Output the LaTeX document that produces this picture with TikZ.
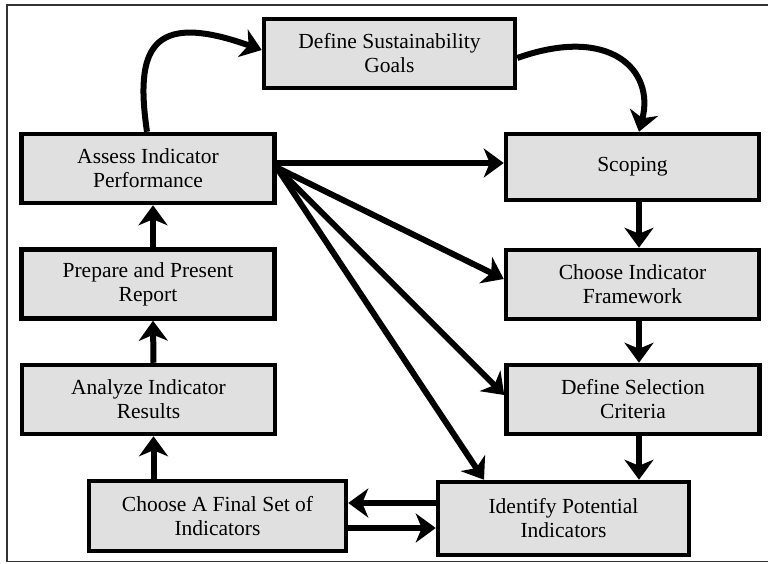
\documentclass[tikz,border=0pt]{standalone}
\usepackage{fontspec}
\setmainfont{Liberation Serif}
\usetikzlibrary{arrows.meta}
\begin{document}
\begin{tikzpicture}[x=1pt,y=-1pt,
  stepbox/.style={draw=black, line width=4.5pt, fill=black!12, minimum width=253pt, minimum height=69pt, align=center, inner sep=0pt, font=\fontsize{21.5}{24}\selectfont},
  flow/.style={line width=6pt, -{Stealth[length=20pt,width=29pt,inset=6pt]}}]
\useasboundingbox (0,0) rectangle (768,563);
\draw[line width=1.5pt, black!80] (768,5) -- (7,5) -- (7,561.5) -- (768,561.5);
\node[stepbox, minimum width=251pt] (gs) at (389.5,53.5) {Define Sustainability\\Goals};
\node[stepbox] (as) at (148,168.5) {Assess Indicator\\Performance};
\node[stepbox] (pp) at (148,284) {Prepare and Present\\Report};
\node[stepbox] (an) at (148.5,399.5) {Analyze Indicator\\Results};
\node[stepbox, minimum width=257pt, minimum height=70pt] (cf) at (217.5,516) {Choose A Final Set of\\Indicators};
\node[stepbox, minimum height=66pt] (sc) at (632.5,167) {Scoping};
\node[stepbox] (fw) at (632.5,284.5) {Choose Indicator\\Framework};
\node[stepbox] (cr) at (633,399.5) {Define Selection\\Criteria};
\node[stepbox, minimum width=251pt, minimum height=73pt] (ip) at (563.5,518.5) {Identify Potential\\Indicators};
% curved connectors
\draw[flow] ([xshift=-1pt]as.north) .. controls (135,50) and (150,10) .. ([yshift=3.5pt]gs.west);
\draw[flow] ([yshift=-4.5pt]gs.east) .. controls (610,25) and (655,70) .. ([xshift=6.5pt]sc.north);
% left column
\draw[flow] ([xshift=5pt]pp.north) -- ([xshift=5pt]as.south);
\draw[flow] ([xshift=5pt]an.north) -- ([xshift=5pt]pp.south);
\draw[flow] ([xshift=5pt]an.south |- cf.north) -- ([xshift=5pt]an.south);
% right column
\draw[flow] ([xshift=6.5pt]sc.south) -- ([xshift=6.5pt]fw.north);
\draw[flow] ([xshift=6.5pt]fw.south) -- ([xshift=6pt]cr.north);
\draw[flow] ([xshift=6pt]cr.south) -- ([xshift=6pt]cr.south |- ip.north);
% from assess
\draw[flow] ([yshift=5.5pt]as.east) -- ([yshift=4pt]sc.west);
\draw[flow] ([yshift=1pt]as.east) -- ([yshift=5.5pt]fw.west);
\draw[flow] ([yshift=1pt]as.east) -- ([yshift=4.5pt]cr.west);
\draw[flow] ([yshift=1pt]as.east) -- ([xshift=-79.5pt]ip.north);
% bottom pair
\draw[flow] ([yshift=15.5pt]ip.west) -- ([yshift=13pt]cf.east);
\draw[flow] ([yshift=-12pt]cf.east) -- ([yshift=-9.5pt]ip.west);
\end{tikzpicture}
\end{document}
